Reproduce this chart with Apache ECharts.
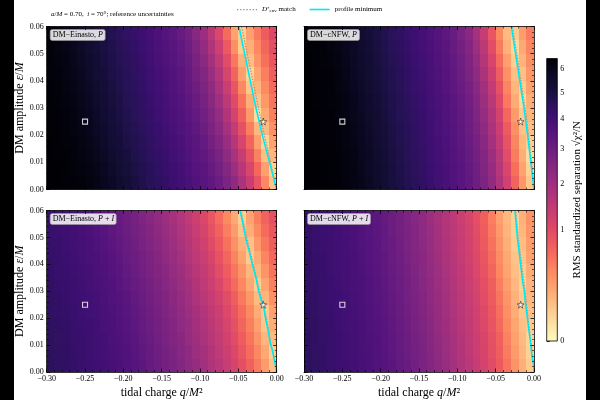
<!DOCTYPE html>
<html><head><meta charset="utf-8">
<script src="https://cdn.jsdelivr.net/npm/echarts@6/dist/echarts.min.js"></script>
<style>html,body{margin:0;padding:0;background:#fff}#c{width:600px;height:400px}</style>
</head><body><div id="c"></div>
<script>
// ---------------- data ----------------
const qCenters = [-0.295,-0.285,-0.275,-0.265,-0.255,-0.245,-0.235,-0.225,-0.215,-0.205,-0.195,-0.185,-0.175,-0.165,-0.155,-0.145,-0.135,-0.125,-0.115,-0.105,-0.095,-0.085,-0.075,-0.065,-0.055,-0.045,-0.035,-0.025,-0.015,-0.005];
const epsCenters = [0.0025,0.0075,0.0125,0.0175,0.0225,0.0275,0.0325,0.0375,0.0425,0.0475,0.0525,0.0575];
const qCellWidth = 0.01;
const epsCellHeight = 0.005;

// RMS standardized separation, rows = epsCenters (bottom -> top), columns = qCenters
const einastoP = [
[6.45,6.45,6.41,6.36,6.31,6.23,6.09,5.94,5.72,5.47,5.25,5.05,4.85,4.65,4.49,4.34,4.17,4.00,3.83,3.65,3.47,3.26,2.98,2.64,2.26,1.82,1.34,0.87,0.42,0.10],
[6.45,6.44,6.39,6.34,6.28,6.17,6.02,5.85,5.60,5.36,5.16,4.96,4.76,4.57,4.42,4.26,4.09,3.92,3.74,3.56,3.38,3.14,2.83,2.47,2.06,1.60,1.11,0.66,0.25,0.06],
[6.45,6.42,6.37,6.32,6.23,6.10,5.95,5.73,5.48,5.27,5.07,4.87,4.67,4.50,4.35,4.18,4.01,3.84,3.66,3.48,3.27,3.00,2.67,2.28,1.85,1.37,0.90,0.45,0.12,0.14],
[6.44,6.39,6.34,6.29,6.18,6.03,5.87,5.62,5.37,5.17,4.97,4.77,4.58,4.43,4.27,4.10,3.93,3.75,3.57,3.39,3.16,2.85,2.49,2.09,1.63,1.14,0.69,0.26,0.05,0.24],
[6.42,6.37,6.32,6.24,6.11,5.96,5.75,5.50,5.28,5.08,4.88,4.68,4.51,4.36,4.19,4.02,3.85,3.67,3.49,3.29,3.02,2.69,2.31,1.88,1.40,0.93,0.48,0.14,0.13,0.35],
[6.40,6.35,6.30,6.20,6.05,5.89,5.64,5.39,5.19,4.99,4.79,4.60,4.45,4.29,4.11,3.94,3.77,3.59,3.41,3.19,2.89,2.54,2.14,1.69,1.19,0.74,0.29,0.03,0.21,0.46],
[6.38,6.33,6.26,6.14,5.99,5.80,5.55,5.32,5.12,4.92,4.72,4.54,4.39,4.23,4.05,3.88,3.71,3.53,3.33,3.08,2.76,2.39,1.97,1.50,1.02,0.57,0.19,0.10,0.30,0.55],
[6.36,6.31,6.22,6.09,5.94,5.71,5.46,5.25,5.05,4.85,4.65,4.49,4.34,4.16,3.99,3.82,3.64,3.46,3.25,2.97,2.63,2.25,1.81,1.32,0.86,0.41,0.09,0.16,0.39,0.64],
[6.34,6.29,6.18,6.03,5.87,5.62,5.37,5.17,4.97,4.77,4.58,4.43,4.28,4.10,3.93,3.76,3.58,3.39,3.16,2.85,2.50,2.09,1.64,1.14,0.69,0.26,0.05,0.23,0.48,0.74],
[6.33,6.25,6.13,5.98,5.78,5.53,5.30,5.10,4.90,4.70,4.53,4.38,4.21,4.04,3.87,3.69,3.51,3.31,3.05,2.73,2.35,1.93,1.45,0.98,0.53,0.17,0.12,0.33,0.58,0.84],
[6.31,6.21,6.07,5.92,5.68,5.43,5.23,5.03,4.83,4.63,4.47,4.32,4.14,3.97,3.80,3.62,3.44,3.23,2.94,2.60,2.20,1.76,1.27,0.81,0.36,0.07,0.18,0.42,0.67,0.95],
[6.28,6.16,6.01,5.84,5.59,5.35,5.15,4.95,4.75,4.56,4.41,4.26,4.08,3.91,3.74,3.56,3.37,3.13,2.82,2.45,2.04,1.58,1.09,0.64,0.24,0.07,0.26,0.51,0.77,1.05]
];
const cnfwP = [
[6.45,6.45,6.43,6.40,6.35,6.28,6.17,6.02,5.81,5.58,5.34,5.13,4.93,4.74,4.55,4.37,4.19,4.02,3.85,3.67,3.48,3.25,2.97,2.64,2.23,1.75,1.22,0.70,0.31,0.09],
[6.45,6.45,6.43,6.39,6.34,6.27,6.14,5.98,5.76,5.53,5.29,5.09,4.89,4.70,4.51,4.33,4.15,3.98,3.81,3.63,3.44,3.20,2.91,2.57,2.14,1.65,1.10,0.60,0.24,0.06],
[6.45,6.45,6.42,6.38,6.33,6.25,6.12,5.95,5.72,5.48,5.25,5.05,4.85,4.66,4.48,4.30,4.12,3.95,3.78,3.60,3.40,3.14,2.84,2.49,2.04,1.54,0.99,0.49,0.18,0.03],
[6.45,6.44,6.41,6.37,6.31,6.22,6.08,5.90,5.66,5.43,5.20,5.00,4.81,4.62,4.44,4.26,4.08,3.91,3.74,3.55,3.34,3.08,2.77,2.40,1.93,1.42,0.89,0.43,0.15,0.07],
[6.45,6.44,6.40,6.36,6.29,6.19,6.04,5.85,5.61,5.38,5.16,4.96,4.76,4.58,4.40,4.22,4.04,3.87,3.70,3.51,3.29,3.02,2.69,2.30,1.83,1.30,0.78,0.36,0.11,0.11],
[6.45,6.43,6.39,6.35,6.28,6.16,6.00,5.79,5.56,5.32,5.11,4.91,4.72,4.54,4.36,4.18,4.00,3.83,3.66,3.46,3.23,2.96,2.61,2.19,1.71,1.18,0.66,0.28,0.08,0.15],
[6.45,6.42,6.38,6.33,6.25,6.13,5.96,5.73,5.49,5.26,5.06,4.86,4.67,4.49,4.31,4.13,3.96,3.79,3.61,3.41,3.17,2.87,2.52,2.08,1.58,1.03,0.52,0.20,0.04,0.19],
[6.44,6.41,6.37,6.31,6.22,6.08,5.90,5.67,5.43,5.21,5.01,4.81,4.62,4.44,4.26,4.08,3.91,3.74,3.56,3.35,3.09,2.78,2.41,1.95,1.43,0.90,0.43,0.15,0.07,0.25],
[6.44,6.40,6.36,6.29,6.19,6.04,5.84,5.60,5.37,5.15,4.95,4.76,4.57,4.39,4.21,4.04,3.87,3.69,3.50,3.28,3.00,2.68,2.28,1.81,1.28,0.76,0.35,0.11,0.11,0.31],
[6.43,6.39,6.34,6.27,6.15,6.00,5.78,5.54,5.30,5.10,4.90,4.71,4.52,4.34,4.16,3.99,3.82,3.64,3.45,3.21,2.93,2.58,2.16,1.67,1.13,0.62,0.26,0.07,0.16,0.37],
[6.42,6.38,6.33,6.24,6.11,5.94,5.71,5.47,5.24,5.04,4.84,4.65,4.47,4.29,4.11,3.94,3.77,3.59,3.39,3.14,2.84,2.48,2.03,1.53,0.98,0.49,0.17,0.04,0.21,0.43],
[6.41,6.36,6.31,6.21,6.07,5.88,5.65,5.41,5.19,4.99,4.79,4.60,4.42,4.24,4.07,3.90,3.72,3.54,3.32,3.06,2.74,2.36,1.90,1.38,0.85,0.40,0.13,0.08,0.27,0.49]
];
const einastoPI = [
[4.53,4.46,4.39,4.32,4.25,4.16,4.07,3.98,3.88,3.78,3.66,3.52,3.36,3.18,3.01,2.85,2.68,2.51,2.32,2.14,1.96,1.76,1.56,1.36,1.16,0.94,0.72,0.49,0.28,0.11],
[4.51,4.43,4.37,4.29,4.21,4.12,4.03,3.94,3.84,3.73,3.61,3.47,3.29,3.11,2.95,2.79,2.62,2.44,2.25,2.07,1.89,1.69,1.49,1.29,1.08,0.85,0.63,0.41,0.21,0.07],
[4.48,4.41,4.34,4.26,4.18,4.09,4.00,3.91,3.80,3.69,3.56,3.40,3.22,3.05,2.89,2.72,2.55,2.36,2.18,2.00,1.81,1.61,1.41,1.21,1.00,0.77,0.55,0.33,0.15,0.13],
[4.46,4.39,4.32,4.24,4.15,4.06,3.97,3.87,3.76,3.64,3.51,3.34,3.16,2.99,2.83,2.66,2.49,2.30,2.12,1.94,1.74,1.54,1.34,1.14,0.92,0.69,0.47,0.26,0.09,0.19],
[4.43,4.36,4.29,4.21,4.12,4.03,3.94,3.84,3.73,3.60,3.46,3.28,3.10,2.94,2.78,2.61,2.43,2.24,2.06,1.88,1.68,1.48,1.28,1.07,0.85,0.62,0.40,0.20,0.08,0.25],
[4.40,4.33,4.26,4.17,4.08,3.99,3.90,3.79,3.67,3.54,3.38,3.19,3.03,2.87,2.71,2.53,2.35,2.16,1.98,1.79,1.59,1.39,1.19,0.97,0.75,0.52,0.31,0.13,0.15,0.35],
[4.37,4.30,4.22,4.13,4.04,3.95,3.85,3.73,3.61,3.47,3.29,3.11,2.95,2.79,2.62,2.44,2.25,2.07,1.89,1.69,1.49,1.29,1.09,0.86,0.64,0.41,0.21,0.07,0.23,0.46],
[4.34,4.26,4.18,4.09,4.00,3.90,3.80,3.68,3.55,3.40,3.22,3.04,2.88,2.72,2.55,2.36,2.18,2.00,1.81,1.61,1.41,1.21,0.99,0.77,0.54,0.33,0.14,0.14,0.33,0.56],
[4.31,4.23,4.14,4.05,3.96,3.86,3.75,3.63,3.49,3.32,3.14,2.98,2.82,2.65,2.47,2.28,2.10,1.92,1.72,1.52,1.32,1.12,0.89,0.67,0.44,0.24,0.08,0.20,0.43,0.66],
[4.27,4.19,4.10,4.01,3.92,3.81,3.70,3.57,3.42,3.24,3.07,2.91,2.74,2.57,2.39,2.20,2.02,1.83,1.63,1.43,1.23,1.02,0.80,0.57,0.35,0.17,0.11,0.30,0.53,0.75],
[4.24,4.16,4.07,3.98,3.88,3.77,3.65,3.52,3.35,3.17,3.00,2.84,2.68,2.50,2.31,2.13,1.95,1.76,1.56,1.36,1.16,0.93,0.71,0.48,0.28,0.10,0.18,0.39,0.62,0.84],
[4.21,4.12,4.03,3.94,3.84,3.73,3.61,3.46,3.28,3.11,2.95,2.78,2.61,2.43,2.24,2.06,1.88,1.68,1.48,1.28,1.08,0.85,0.63,0.40,0.21,0.07,0.24,0.47,0.70,0.92]
];
const cnfwPI = [
[4.51,4.43,4.35,4.26,4.17,4.08,3.99,3.89,3.78,3.67,3.53,3.38,3.22,3.05,2.87,2.69,2.50,2.31,2.12,1.92,1.73,1.55,1.37,1.19,1.00,0.80,0.56,0.33,0.18,0.08],
[4.49,4.41,4.32,4.23,4.14,4.05,3.96,3.87,3.76,3.64,3.50,3.35,3.18,3.01,2.83,2.65,2.46,2.27,2.07,1.88,1.69,1.51,1.33,1.15,0.95,0.75,0.49,0.28,0.15,0.06],
[4.48,4.40,4.31,4.22,4.13,4.04,3.95,3.85,3.74,3.62,3.48,3.32,3.15,2.98,2.80,2.62,2.43,2.24,2.04,1.85,1.66,1.48,1.30,1.12,0.92,0.72,0.45,0.25,0.13,0.05],
[4.46,4.38,4.29,4.20,4.11,4.02,3.93,3.82,3.71,3.59,3.44,3.28,3.11,2.94,2.76,2.58,2.38,2.19,1.99,1.80,1.62,1.44,1.26,1.07,0.87,0.65,0.40,0.22,0.11,0.08],
[4.44,4.36,4.27,4.18,4.09,4.00,3.90,3.80,3.68,3.55,3.40,3.24,3.07,2.90,2.72,2.53,2.34,2.14,1.95,1.76,1.58,1.40,1.22,1.03,0.83,0.59,0.36,0.19,0.09,0.11],
[4.43,4.34,4.25,4.16,4.07,3.98,3.88,3.77,3.66,3.52,3.37,3.21,3.04,2.86,2.68,2.49,2.30,2.11,1.91,1.72,1.54,1.36,1.18,0.99,0.79,0.54,0.32,0.17,0.08,0.14],
[4.41,4.32,4.23,4.14,4.05,3.96,3.86,3.75,3.63,3.49,3.34,3.17,3.00,2.82,2.64,2.45,2.26,2.06,1.87,1.68,1.50,1.32,1.14,0.94,0.75,0.48,0.27,0.14,0.06,0.16],
[4.39,4.30,4.21,4.12,4.03,3.94,3.84,3.72,3.60,3.46,3.30,3.13,2.96,2.78,2.60,2.41,2.21,2.02,1.83,1.64,1.46,1.28,1.09,0.89,0.68,0.42,0.23,0.12,0.07,0.20],
[4.37,4.28,4.19,4.10,4.01,3.92,3.81,3.70,3.57,3.42,3.26,3.09,2.92,2.74,2.55,2.36,2.17,1.97,1.78,1.60,1.42,1.24,1.05,0.85,0.63,0.38,0.21,0.10,0.10,0.24],
[4.35,4.26,4.17,4.08,3.99,3.90,3.79,3.67,3.54,3.39,3.22,3.05,2.88,2.70,2.51,2.32,2.13,1.93,1.74,1.56,1.38,1.20,1.01,0.81,0.57,0.34,0.18,0.08,0.12,0.28],
[4.33,4.24,4.15,4.06,3.97,3.88,3.77,3.65,3.52,3.36,3.19,3.02,2.85,2.67,2.48,2.29,2.09,1.90,1.70,1.53,1.35,1.17,0.97,0.77,0.52,0.30,0.16,0.07,0.15,0.32],
[4.32,4.23,4.14,4.05,3.96,3.86,3.75,3.63,3.50,3.34,3.17,3.00,2.82,2.64,2.45,2.26,2.06,1.87,1.68,1.50,1.32,1.14,0.94,0.74,0.48,0.26,0.14,0.06,0.17,0.34]
];

// profile-minimum curves [q, eps]
const minEinastoP = [[0,0],[-0.0093,0.01],[-0.0187,0.02],[-0.027,0.03],[-0.0345,0.04],[-0.0419,0.05],[-0.0493,0.06]];
const minCnfwP = [[0,0],[-0.0041,0.01],[-0.0083,0.02],[-0.013,0.03],[-0.0185,0.04],[-0.024,0.05],[-0.0295,0.06]];
const minEinastoPI = [[0,0],[-0.0012,0.002],[-0.004,0.0057],[-0.0055,0.008],[-0.0082,0.0105],[-0.0105,0.0145],[-0.0147,0.0203],[-0.0175,0.025],[-0.0205,0.027],[-0.0235,0.0301],[-0.027,0.035],[-0.0318,0.040],[-0.036,0.045],[-0.0404,0.0498],[-0.044,0.055],[-0.0477,0.06]];
const minCnfwPI = [[0,0],[-0.0005,0.003],[-0.0026,0.0057],[-0.0045,0.011],[-0.0048,0.012],[-0.0061,0.0143],[-0.0087,0.0203],[-0.0109,0.025],[-0.0126,0.030],[-0.0155,0.035],[-0.0162,0.037],[-0.0174,0.040],[-0.0217,0.050],[-0.0248,0.060]];
// D*_env match curves [q, eps]
const matchEinastoP = [[-0.0005,0],[-0.0078,0.01],[-0.016,0.02],[-0.0238,0.03],[-0.031,0.04],[-0.0385,0.05],[-0.0458,0.06]];
const matchCnfwP = [[0,0],[-0.003,0.01],[-0.007,0.02],[-0.0115,0.03],[-0.017,0.04],[-0.0225,0.05],[-0.028,0.06]];
const matchEinastoPI = [[0,0.001],[-0.0035,0.0057],[-0.0075,0.0105],[-0.0135,0.0203],[-0.0222,0.0301],[-0.0305,0.040],[-0.039,0.0498],[-0.0465,0.06]];
const matchCnfwPI = [[0,0.001],[-0.002,0.0057],[-0.0052,0.0143],[-0.0078,0.0203],[-0.0115,0.030],[-0.0162,0.040],[-0.0205,0.050],[-0.0238,0.060]];

const referencePoint = [-0.0175, 0.025];   // star
const comparisonPoint = [-0.25, 0.025];    // square

const panelNames = ['DM−Einasto, {i|P}', 'DM−cNFW, {i|P}', 'DM−Einasto, {i|P} + {i|I}', 'DM−cNFW, {i|P} + {i|I}'];
const colorbarTicks = [0, 1, 2, 3, 4, 5, 6];
const colorMax = 6.47;

// ---------------- rendering ----------------
const FONT = 'Liberation Serif';
const SQRT_MAX = Math.sqrt(colorMax);
const MAGMA_R = ['#fcfdbf','#fde6a8','#fecf92','#feb77e','#fe9f6d','#fc8961','#f7705c','#ed5a5f','#de4968','#cb3e72','#b73779','#a1307e','#8c2981','#782281','#641a80','#51127c','#3b0f70','#251255','#140e36','#0a0822','#000004'];

const matrices = [einastoP, cnfwP, einastoPI, cnfwPI];
const minCurves = [minEinastoP, minCnfwP, minEinastoPI, minCnfwPI];
const matchCurves = [matchEinastoP, matchCnfwP, matchEinastoPI, matchCnfwPI];

const grids = [
  {left: 46.7, top: 26.5, width: 230, height: 163},
  {left: 304, top: 26.5, width: 230, height: 163},
  {left: 46.7, top: 210.5, width: 230, height: 163},
  {left: 304, top: 210.5, width: 230, height: 163},
  {left: 546.7, top: 58.5, width: 10.6, height: 282.5}
];

const fmt2 = v => (v < -1e-9 ? '−' : '') + Math.abs(v).toFixed(2);
const lineCol = '#000';
function axisCommon() {
  return {
    z: 10,
    axisLine: {show: true, onZero: false, lineStyle: {color: lineCol, width: 0.8}},
    axisTick: {show: true, inside: true, length: 3.5, lineStyle: {color: lineCol, width: 0.8}},
    minorTick: {show: true, splitNumber: 5, length: 2, lineStyle: {color: lineCol, width: 0.6}},
    splitLine: {show: false},
    minorSplitLine: {show: false}
  };
}
const italicRich = {i: {fontStyle: 'italic', fontFamily: FONT, fontSize: 12, color: '#000'}};

const xAxes = [], yAxes = [];
for (let p = 0; p < 4; p++) {
  const bottomRow = p >= 2, leftCol = p % 2 === 0;
  xAxes.push(Object.assign(axisCommon(), {
    type: 'value', gridIndex: p, position: 'bottom', min: -0.3, max: 0, interval: 0.05,
    axisLabel: {show: bottomRow, fontFamily: FONT, fontSize: 8, color: '#000', margin: 3, formatter: fmt2},
    name: bottomRow ? 'tidal charge {i|q}/{i|M}²' : '', nameLocation: 'middle', nameGap: 15,
    nameTextStyle: {fontFamily: FONT, fontSize: 12, color: '#000', rich: italicRich}
  }));
  xAxes.push(Object.assign(axisCommon(), {
    type: 'value', gridIndex: p, position: 'top', min: -0.3, max: 0, interval: 0.05,
    axisLabel: {show: false}
  }));
  yAxes.push(Object.assign(axisCommon(), {
    type: 'value', gridIndex: p, position: 'left', min: 0, max: 0.06, interval: 0.01,
    axisLabel: {show: leftCol, fontFamily: FONT, fontSize: 8, color: '#000', margin: 3, formatter: fmt2},
    name: leftCol ? 'DM amplitude {i|ε}/{i|M}' : '', nameLocation: 'middle', nameGap: 21, nameRotate: 90,
    nameTextStyle: {fontFamily: FONT, fontSize: 12, color: '#000', rich: italicRich}
  }));
  yAxes.push(Object.assign(axisCommon(), {
    type: 'value', gridIndex: p, position: 'right', min: 0, max: 0.06, interval: 0.01,
    axisLabel: {show: false}
  }));
}
// colorbar axes
xAxes.push({type: 'value', gridIndex: 4, min: 0, max: 1, show: false});
yAxes.push({
  type: 'value', gridIndex: 4, position: 'right', min: 0, max: SQRT_MAX,
  axisLine: {show: false}, splitLine: {show: false},
  axisTick: {show: true, inside: false, length: 3, lineStyle: {color: '#000', width: 0.8},
             customValues: colorbarTicks.map(Math.sqrt)},
  axisLabel: {show: true, fontFamily: FONT, fontSize: 8, color: '#000', margin: 3,
              customValues: colorbarTicks.map(Math.sqrt), formatter: v => String(Math.round(v * v))},
  name: 'RMS standardized separation √χ²/N', nameLocation: 'middle', nameRotate: 90, nameGap: 14,
  nameTextStyle: {fontFamily: FONT, fontSize: 11, color: '#000'}
});

const series = [];
const heatIdx = [];
const starPath = 'path://M50,0 L61,35 L98,35 L68,57 L79,91 L50,70 L21,91 L32,57 L2,35 L39,35 Z';
for (let p = 0; p < 4; p++) {
  const data = [];
  matrices[p].forEach((row, j) => row.forEach((v, i) => data.push([qCenters[i], epsCenters[j], v, Math.sqrt(v)])));
  heatIdx.push(series.length);
  series.push({
    type: 'custom', xAxisIndex: 2 * p, yAxisIndex: 2 * p, clip: true, z: 1, silent: true,
    encode: {x: 0, y: 1},
    renderItem: (params, api) => {
      const q = api.value(0), e = api.value(1);
      const a = api.coord([q - qCellWidth / 2, e + epsCellHeight / 2]);
      const b = api.coord([q + qCellWidth / 2, e - epsCellHeight / 2]);
      const x0 = Math.round(a[0]), y0 = Math.round(a[1]);
      const x1 = Math.round(b[0]), y1 = Math.round(b[1]);
      return {type: 'rect', shape: {x: x0, y: y0, width: x1 - x0, height: y1 - y0},
              style: {fill: api.visual('color')}};
    },
    data: data
  });
  series.push({
    type: 'line', name: 'match', xAxisIndex: 2 * p, yAxisIndex: 2 * p, z: 3, symbol: 'none', silent: true,
    lineStyle: {color: '#8a8a8a', width: 1, type: [1.2, 1.6]}, itemStyle: {color: '#8a8a8a'},
    data: matchCurves[p]
  });
  series.push({
    type: 'line', name: 'min', xAxisIndex: 2 * p, yAxisIndex: 2 * p, z: 4, symbol: 'none', silent: true,
    lineStyle: {color: '#00e8f2', width: 1.6}, itemStyle: {color: '#00e8f2'},
    data: minCurves[p]
  });
  series.push({
    type: 'scatter', xAxisIndex: 2 * p, yAxisIndex: 2 * p, z: 5, symbol: 'rect', symbolSize: 5, silent: true,
    itemStyle: {color: 'rgba(0,0,0,0)', borderColor: '#fff', borderWidth: 1.1},
    data: [comparisonPoint]
  });
  series.push({
    type: 'scatter', xAxisIndex: 2 * p, yAxisIndex: 2 * p, z: 5, symbol: starPath, symbolSize: 7, silent: true,
    itemStyle: {color: '#fff', borderColor: '#000', borderWidth: 0.6},
    data: [referencePoint]
  });
}
// colorbar
series.push({
  type: 'custom', xAxisIndex: 8, yAxisIndex: 8, silent: true, z: 1,
  renderItem: (params, api) => {
    const a = api.coord([0, SQRT_MAX]);
    const b = api.coord([1, 0]);
    return {type: 'rect', shape: {x: a[0], y: a[1], width: b[0] - a[0], height: b[1] - a[1]},
      style: {
        fill: new echarts.graphic.LinearGradient(0, 1, 0, 0, MAGMA_R.map((c, k) => ({offset: k / (MAGMA_R.length - 1), color: c}))),
        stroke: '#000', lineWidth: 0.8
      }};
  },
  data: [[0, 0]]
});

const titles = [{
  text: '{i|a}/{i|M} = 0.70,  {i|i} = 70°; reference uncertainties',
  left: 46, top: 6,
  textStyle: {fontFamily: FONT, fontSize: 7, fontWeight: 'normal', color: '#000',
              rich: {i: {fontStyle: 'italic', fontFamily: FONT, fontSize: 7, color: '#000'}}}
}];
for (let p = 0; p < 4; p++) {
  titles.push({
    text: panelNames[p], left: grids[p].left + 3.5, top: grids[p].top + 3,
    padding: [1.5, 2.5, 1.5, 2.5], backgroundColor: 'rgba(255,255,255,0.85)',
    borderColor: '#9a9a9a', borderWidth: 0.6, borderRadius: 2,
    textStyle: {fontFamily: FONT, fontSize: 8, fontWeight: 'normal', color: '#000',
                rich: {i: {fontStyle: 'italic', fontFamily: FONT, fontSize: 8, color: '#000'}}}
  });
}

const dotsIcon = 'path://M0,0h1v1h-1z M2.5,0h1v1h-1z M5,0h1v1h-1z M7.5,0h1v1h-1z M10,0h1v1h-1z M12.5,0h1v1h-1z M15,0h1v1h-1z';
const option = {
  animation: false,
  backgroundColor: '#fff',
  title: titles,
  legend: {
    top: 1, left: 232, itemWidth: 20, itemHeight: 1.6, itemGap: 14, selectedMode: false,
    data: [{name: 'match', icon: dotsIcon}, {name: 'min', icon: 'rect'}],
    formatter: n => n === 'match' ? '{i|D}{s|*}{b|env} match' : 'profile minimum',
    textStyle: {fontFamily: FONT, fontSize: 7, color: '#000',
      rich: {
        i: {fontStyle: 'italic', fontFamily: FONT, fontSize: 7, color: '#000'},
        s: {fontFamily: FONT, fontSize: 5, color: '#000', verticalAlign: 'top'},
        b: {fontFamily: FONT, fontSize: 5, color: '#000', verticalAlign: 'bottom'}
      }}
  },
  grid: grids,
  xAxis: xAxes,
  yAxis: yAxes,
  visualMap: {type: 'continuous', show: false, min: 0, max: SQRT_MAX, dimension: 3,
              seriesIndex: heatIdx, inRange: {color: MAGMA_R}},
  graphic: [
    {type: 'rect', shape: {x: 0, y: 0, width: 14, height: 400}, style: {fill: '#000'}, z: 100},
    {type: 'rect', shape: {x: 586, y: 0, width: 14, height: 400}, style: {fill: '#000'}, z: 100}
  ],
  series: series
};
const chart = echarts.init(document.getElementById('c'), null, {renderer: 'canvas'});
chart.setOption(option);
</script>
</body></html>
